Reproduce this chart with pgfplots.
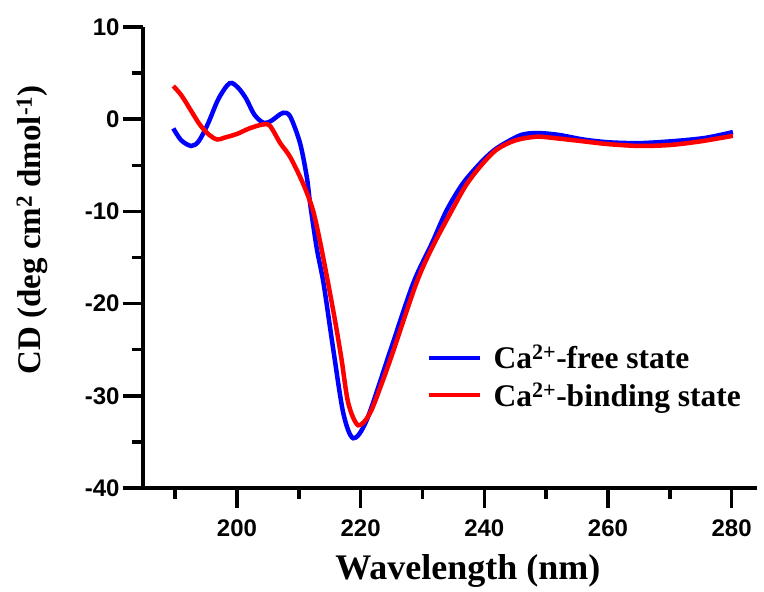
\documentclass[border=0pt]{standalone}
\usepackage{fontspec}
\setmainfont{Liberation Serif}
\newfontfamily\arialf{Liberation Sans}
\usepackage{pgfplots}
\pgfplotsset{compat=1.18}
\begin{document}
\begin{tikzpicture}
\begin{axis}[
  scale only axis, width=614pt, height=461pt,
  xmin=184.8, xmax=284.1, ymin=-40, ymax=10,
  axis lines=left,
  axis line style={-, line width=3.5pt, black},
  xtick={200,220,...,280}, minor xtick={190,210,...,270},
  ytick={-40,-30,...,10}, minor ytick={-35,-25,...,5},
  tick align=outside, major tick length=20pt, minor tick length=11pt,
  every tick/.style={line width=3.5pt, black},
  every minor tick/.style={line width=3.5pt, black},
  ticklabel style={font=\arialf\bfseries\fontsize{24}{24}\selectfont},
  xticklabel style={yshift=-8pt},
  /pgf/number format/assume math mode=true,
  xlabel={Wavelength (nm)},
  ylabel={CD (deg cm\textsuperscript{2} dmol\textsuperscript{-1})},
  xlabel style={font=\bfseries\fontsize{36}{36}\selectfont, at={(axis description cs:0.529,0)}, anchor=base, yshift=-92pt},
  ylabel style={font=\bfseries\fontsize{33}{33}\selectfont, at={(axis description cs:-0.18,0.56)}, anchor=center},
  legend style={draw=none, fill=none, at={(axis description cs:0.4625,0.242)}, anchor=west,
    inner sep=0pt, nodes={inner sep=1pt}, column sep=10pt, row sep=10pt,
    font=\bfseries\fontsize{31.5}{31.5}\selectfont, cells={anchor=west}},
  legend image code/.code={\draw[#1] (0pt,0pt) -- (51pt,0pt);},
  clip=false,
]
\addplot[blue, line width=4.5pt, smooth, tension=0.5] coordinates {
(189.7,-1.0) (191,-2.3) (192.6,-2.9) (193.8,-2.4) (195.3,-0.5) (197,2.2)
(198.8,3.9) (200.2,3.4) (201.5,2.2) (202.8,0.5) (204.3,-0.4) (205.5,-0.2)
(206.5,0.3) (207.5,0.7) (208.6,0.3) (210.2,-2.6) (211.3,-6.3) (211.8,-9.0)
(212.9,-14) (214,-17.8) (215.6,-25.1) (217.2,-31.9) (218.8,-34.6) (221,-32.6)
(224.8,-25.1) (228.5,-17.8) (231.5,-13.5) (233.9,-9.9) (236.5,-7) (239.3,-4.8)
(241.5,-3.4) (243.6,-2.5) (246,-1.7) (248.5,-1.5) (252,-1.7) (256,-2.2)
(260,-2.5) (264.6,-2.6) (268,-2.5) (272,-2.3) (276,-2.0) (280.2,-1.4)
};
\addlegendentry{Ca\textsuperscript{2+}-free state}
\addplot[red, line width=4.5pt, smooth, tension=0.5] coordinates {
(189.7,3.6) (191,2.6) (192.5,1.0) (194,-0.6) (195.5,-1.7) (196.8,-2.2)
(198,-2.0) (200,-1.6) (202,-1.0) (204,-0.6) (205.3,-0.7) (207,-2.6)
(208.6,-4.1) (210.7,-7) (212.3,-9.9) (213.5,-13.5) (214.8,-18) (215.9,-22)
(216.9,-26) (218,-30.8) (219.6,-33.2) (221.5,-31.9) (223.5,-28.5) (225.3,-25.1)
(229,-17.8) (231.5,-14) (234.5,-10.2) (237,-7.2) (239.5,-5.0) (242,-3.3)
(245,-2.3) (248.5,-1.9) (252,-2.1) (256,-2.4) (260,-2.7) (265,-2.9)
(270,-2.8) (275,-2.4) (280.2,-1.8)
};
\addlegendentry{Ca\textsuperscript{2+}-binding state}
\end{axis}
\path (-143pt,-99pt) rectangle (621pt,488pt);
\end{tikzpicture}
\end{document}
